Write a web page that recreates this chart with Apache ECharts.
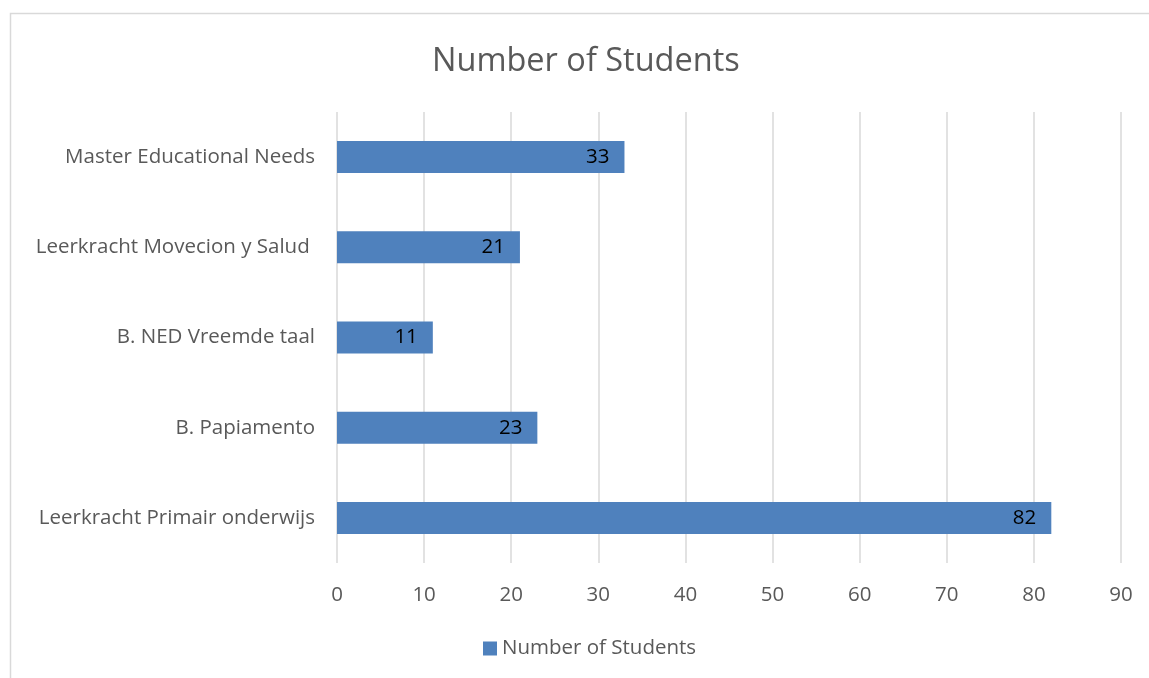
<!DOCTYPE html>
<html><head><meta charset="utf-8">
<script src="https://cdn.jsdelivr.net/npm/echarts@6/dist/echarts.min.js"></script>
<style>html,body{margin:0;padding:0;background:#fff}#c{width:1149px;height:678px}</style>
</head><body><div id="c"></div>
<script>
const categories = ["Leerkracht Primair onderwijs", "B. Papiamento", "B. NED Vreemde taal", "Leerkracht Movecion y Salud ", "Master Educational Needs"];
const values = [82, 23, 11, 21, 33];
const seriesName = "Number of Students";
const chart = echarts.init(document.getElementById('c'));
const font = "Open Sans";
chart.setOption({
  animation: false,
  graphic: [{type:'rect', shape:{x:10.5, y:13.5, width:1200, height:700}, style:{fill:'none', stroke:'#d9d9d9', lineWidth:1.5}, silent:true}],
  title: {text: seriesName, left: 427, top: 40, textStyle:{fontFamily:font, fontSize:32.5, fontWeight:'normal', color:'#595959'}},
  legend: {bottom: 14, left: 478, itemWidth: 14, itemHeight: 14, icon: 'rect', itemGap: 8, textStyle:{fontFamily:font, fontSize:20.5, color:'#595959'}},
  grid: {left: 337, right: 28, top: 112, bottom: 115, containLabel: false},
  xAxis: {type:'value', min:0, max:90, interval:10,
    axisLine:{show:false}, axisTick:{show:false},
    splitLine:{lineStyle:{color:'#d9d9d9', width:1.5}},
    axisLabel:{fontFamily:font, fontSize:20.5, color:'#595959', margin:22}},
  yAxis: {type:'category', data: categories, axisLine:{show:false}, axisTick:{show:false},
    axisLabel:{fontFamily:font, fontSize:20.5, color:'#595959', margin:22}},
  series: [{name: seriesName, type:'bar', data: values, barWidth: 32,
    itemStyle:{color:'#4f81bd'},
    label:{show:true, position:'insideRight', color:'#000', fontFamily:font, fontSize:20.5, distance:15}}]
});
</script></body></html>
